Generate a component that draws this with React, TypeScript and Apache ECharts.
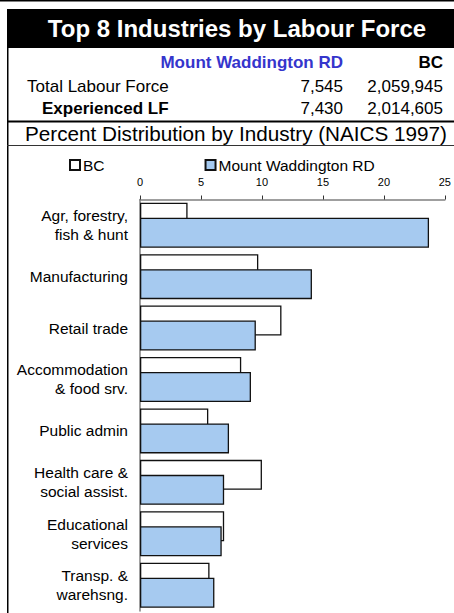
import React, { useEffect, useRef } from "react";
import * as echarts from "echarts";

const categories = [
  "Agr, forestry,\nfish & hunt",
  "Manufacturing",
  "Retail trade",
  "Accommodation\n& food srv.",
  "Public admin",
  "Health care &\nsocial assist.",
  "Educational\nservices",
  "Transp. &\nwarehsng.",
];
const bcValues = [3.9, 9.7, 11.6, 8.3, 5.6, 10.0, 6.9, 5.7];
const mwValues = [23.7, 14.1, 9.5, 9.1, 7.3, 6.9, 6.7, 6.1];
const seriesNames = ["BC", "Mount Waddington RD"];
const titleText = "Top 8 Industries by Labour Force";
const subTitle = "Percent Distribution by Industry (NAICS 1997)";
const rowLabels = ["Total Labour Force", "Experienced LF"];
const mwTotals = ["7,545", "7,430"];
const bcTotals = ["2,059,945", "2,014,605"];

const FONT = "'Liberation Sans', Arial, Helvetica, sans-serif";

export default function App() {
  const ref = useRef<HTMLDivElement>(null);
  useEffect(() => {
    document.body.style.margin = "0";
    const chart = echarts.init(ref.current!, null, { renderer: "svg" });
    const txt = (text: string, x: number, y: number, align: string, size: number, bold: boolean, fill = "#000") => ({
      type: "text",
      x,
      y,
      style: {
        text,
        fill,
        font: `${bold ? "bold " : ""}${size}px ${FONT}`,
        textAlign: align,
        textVerticalAlign: "middle",
      },
      silent: true,
    });
    chart.setOption({
      animation: false,
      textStyle: { fontFamily: FONT },
      graphic: [
        { type: "rect", shape: { x: 0, y: 0, width: 454, height: 1.5 }, style: { fill: "#000" } },
        { type: "rect", shape: { x: 7, y: 9, width: 447, height: 39 }, style: { fill: "#000" } },
        { type: "rect", shape: { x: 7, y: 48, width: 1.5, height: 565 }, style: { fill: "#000" } },
        { type: "rect", shape: { x: 7, y: 120.5, width: 447, height: 2 }, style: { fill: "#000" } },
        { type: "rect", shape: { x: 7, y: 145, width: 447, height: 1 }, style: { fill: "#333" } },
        txt(titleText, 237, 28, "center", 24, true, "#fff"),
        txt(seriesNames[1], 343, 62, "right", 17, true, "#3535CC"),
        txt(seriesNames[0], 443, 62, "right", 17, true),
        txt(rowLabels[0], 27, 86.5, "left", 17, false),
        txt(mwTotals[0], 343, 86.5, "right", 17, false),
        txt(bcTotals[0], 443, 86.5, "right", 17, false),
        txt(rowLabels[1], 42, 108.5, "left", 17, true),
        txt(mwTotals[1], 343, 108.5, "right", 17, false),
        txt(bcTotals[1], 443, 108.5, "right", 17, false),
        txt(subTitle, 236, 133, "center", 20.7, false),
      ],
      legend: {
        left: 64,
        top: 152,
        itemWidth: 10,
        itemHeight: 10,
        itemGap: 100,
        icon: "rect",
        textStyle: { fontSize: 15.5, color: "#000", fontFamily: FONT, padding: [0, 0, 0, -2] },
        data: seriesNames,
      },
      grid: { left: 140, right: 8, top: 199.5, height: 411.4, containLabel: false },
      xAxis: {
        type: "value",
        position: "top",
        min: 0,
        max: 25,
        interval: 5,
        axisLine: { show: true, lineStyle: { color: "#808080", width: 1.5 } },
        axisTick: { show: true, length: 4, lineStyle: { color: "#333" } },
        axisLabel: { fontSize: 11, color: "#000", margin: 12, fontFamily: FONT },
        splitLine: { show: false },
      },
      yAxis: {
        type: "category",
        inverse: true,
        data: categories,
        axisLine: { show: true, lineStyle: { color: "#808080", width: 1.5 } },
        axisTick: { show: false },
        axisLabel: { fontSize: 15.5, lineHeight: 19, color: "#000", margin: 12, align: "right", fontFamily: FONT },
      },
      series: [
        {
          name: seriesNames[0],
          type: "bar",
          data: bcValues,
          barWidth: 30,
          barGap: "-50%",
          itemStyle: { color: "#fff", borderColor: "#111", borderWidth: 1.3 },
        },
        {
          name: seriesNames[1],
          type: "bar",
          data: mwValues,
          barWidth: 30,
          barGap: "-50%",
          itemStyle: { color: "#A6CAF0", borderColor: "#111", borderWidth: 1.3 },
        },
      ],
    });
    return () => chart.dispose();
  }, []);
  return <div ref={ref} style={{ width: 454, height: 613 }} />;
}
